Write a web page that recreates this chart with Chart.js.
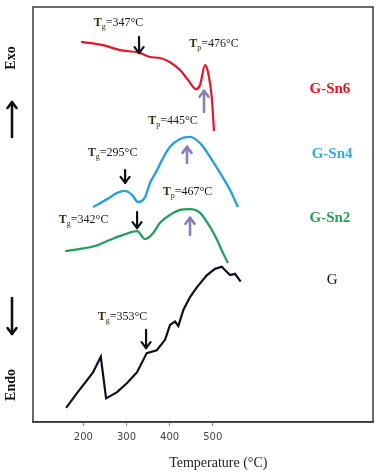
<!DOCTYPE html>
<html><head><meta charset="utf-8">
<script src="https://cdn.jsdelivr.net/npm/chart.js@4/dist/chart.umd.min.js"></script>
<style>html,body{margin:0;padding:0;background:#fff}#wrap{width:380px;height:474px}</style>
</head><body><div id="wrap"><canvas id="c" width="380" height="474"></canvas></div>
<script>
// Temperature (°C) and heat-flow (arbitrary units)
const sn6T = [194.7,245.7,285.1,329.1,354.6,377.8,401.0,424.2,442.8,461.3,470.6,482.2,489.8,497.7,503.0];
const sn6Y = [91.6,90.8,89.6,89.0,87.95,87.7,86.7,84.8,82.4,80.2,81.2,86.0,84.0,78.4,70.1];
const sn4T = [222.5,255.0,278.1,296.7,312.9,326.8,343.1,354.6,370.9,384.8,401.0,424.2,447.4,470.6,493.8,517.0,540.2,558.7];
const sn4Y = [51.8,53.7,55.2,55.7,54.7,53.0,54.2,57.6,60.7,63.6,66.3,68.2,68.7,67.2,63.9,60.0,55.9,51.8];
const sn2T = [157.6,192.3,227.1,261.9,292.0,324.5,343.1,361.6,377.8,401.0,424.2,447.4,470.6,493.8,510.0,523.9,535.5];
const sn2Y = [41.2,41.7,42.4,43.9,45.1,46.0,44.1,45.5,48.0,49.9,51.1,51.3,50.4,47.0,43.9,40.7,38.3];
const gT = [159.9,185.4,208.6,222.5,240.3,252.6,278.1,301.3,324.5,347.0,370.2,389.4,401.0,412.6,420.3,431.9,447.4,463.6,486.8,505.4,520.9,540.2,551.8,564.9];
const gY = [3.4,7.0,10.1,12.0,15.7,5.7,7.2,9.4,12.0,16.6,17.3,19.8,23.4,24.2,23.1,27.0,30.1,32.5,35.4,36.9,37.4,35.4,35.7,33.8];
const xTicks = [200,300,400,500];
const seriesNames = ['G-Sn6','G-Sn4','G-Sn2','G'];
// annotations: [sub, text, textT, textY, arrowT, tailY, headY, kind]
const notes = [
  ['g','=347°C',281.6,96.1,329.1,92.8,88.9,'tg'],
  ['p','=476°C',503.0,91.1,479.9,74.7,79.8,'tp'],
  ['p','=445°C',408.0,72.5,440.4,62.4,66.3,'tp'],
  ['g','=295°C',267.7,64.8,296.7,60.7,57.6,'tg'],
  ['p','=467°C',441.6,55.4,447.4,45.1,49.2,'tp'],
  ['g','=342°C',200.5,48.7,324.5,50.6,46.7,'tg'],
  ['g','=353°C',290.9,25.3,345.4,22.2,17.8,'tg']
];
// series label anchors (T, y)
const labelT = [772,777,772,777];
const labelY = [80.1,64.6,49.2,34.2];

const colors = ['#e3162b','#2b9fda','#1f9e5a','#0e0e1e'];
const labelColors = ['#e8101e','#35a8e0','#22a055','#111111'];
const pts = (xs,ys)=>xs.map((v,i)=>({x:v,y:ys[i]}));

function arrow(ctx,x,y1,y2,col,w){
  ctx.strokeStyle=col; ctx.lineWidth=w; ctx.lineCap='round'; ctx.lineJoin='round';
  ctx.beginPath(); ctx.moveTo(x,y1); ctx.lineTo(x,y2); ctx.stroke();
  const d = y2>y1?1:-1;
  ctx.beginPath(); ctx.moveTo(x-4.5,y2-d*6); ctx.lineTo(x,y2); ctx.lineTo(x+4.5,y2-d*6); ctx.stroke();
}

const annot = {
  id:'annot',
  afterDraw(chart){
    const {ctx, chartArea:a, scales:{x,y}} = chart;
    ctx.save();
    ctx.strokeStyle='#3a3a3a'; ctx.lineWidth=1.5;
    ctx.strokeRect(a.left,a.top,a.width,a.height);
    notes.forEach(n=>{
      const [sub,txt,tT,tY,aT,y1,y2,kind]=n;
      ctx.font='bold 12px "Liberation Serif"';
      const wT=ctx.measureText('T').width;
      ctx.font='8px "Liberation Serif"'; const wS=ctx.measureText(sub).width;
      ctx.font='12px "Liberation Serif"'; const wR=ctx.measureText(txt).width;
      const tw=wT+wS+wR;
      let px=x.getPixelForValue(tT)-tw/2; const py=y.getPixelForValue(tY);
      ctx.textBaseline='middle'; ctx.textAlign='left';
      ctx.font='bold 12px "Liberation Serif"'; ctx.fillStyle='#3a2a10'; ctx.fillText('T',px,py); px+=wT;
      ctx.font='8px "Liberation Serif"'; ctx.fillText(sub,px,py+4); px+=wS;
      ctx.font='12px "Liberation Serif"'; ctx.fillStyle='#1a1a1a'; ctx.fillText(txt,px,py);
      const ax=x.getPixelForValue(aT);
      if(kind==='tg') arrow(ctx,ax,y.getPixelForValue(y1),y.getPixelForValue(y2),'#111',2.2);
      else arrow(ctx,ax,y.getPixelForValue(y1),y.getPixelForValue(y2),'#8a7db8',2.6);
    });
    seriesNames.forEach((s,i)=>{
      ctx.font=(i===3?'':'bold ')+'15px "Liberation Serif"';
      ctx.fillStyle=labelColors[i]; ctx.textAlign='center'; ctx.textBaseline='middle';
      ctx.fillText(s,x.getPixelForValue(labelT[i]),y.getPixelForValue(labelY[i]));
    });
    ctx.fillStyle='#111';
    [['Exo',58],['Endo',385]].forEach(([t,cy])=>{
      ctx.save(); ctx.translate(11,cy); ctx.rotate(-Math.PI/2);
      ctx.font='bold 14px "Liberation Serif"'; ctx.textAlign='center'; ctx.textBaseline='middle';
      ctx.fillText(t,0,0); ctx.restore();
    });
    arrow(ctx,12,137,102,'#111',2.6);
    arrow(ctx,12,298,334,'#111',2.6);
    ctx.font='14px "Liberation Serif"'; ctx.fillStyle='#222'; ctx.textAlign='center'; ctx.textBaseline='middle';
    ctx.fillText('Temperature (°C)', a.left+0.545*a.width, 463);
    ctx.restore();
  }
};

new Chart(document.getElementById('c'),{
  type:'scatter',
  data:{datasets:[
    {data:pts(sn6T,sn6Y),borderColor:colors[0],borderWidth:2.2,cubicInterpolationMode:'monotone'},
    {data:pts(sn4T,sn4Y),borderColor:colors[1],borderWidth:2.4,cubicInterpolationMode:'monotone'},
    {data:pts(sn2T,sn2Y),borderColor:colors[2],borderWidth:2.2,cubicInterpolationMode:'monotone'},
    {data:pts(gT,gY),borderColor:colors[3],borderWidth:2.2,tension:0}
  ].map(d=>Object.assign(d,{showLine:true,pointRadius:0,fill:false}))},
  options:{
    responsive:false,animation:false,
    layout:{padding:{left:33,right:7,top:7,bottom:0}},
    plugins:{legend:{display:false},tooltip:{enabled:false}},
    scales:{
      x:{type:'linear',min:83,max:872,
        afterBuildTicks:s=>{s.ticks=xTicks.map(v=>({value:v}));},
        afterFit:s=>{s.height=52;},
        ticks:{color:'#444',font:{family:'DejaVu Sans',size:10},padding:5,maxRotation:0},
        grid:{drawOnChartArea:false,drawTicks:true,tickLength:4,color:'#888'},
        border:{display:true,color:'#3a3a3a',width:1.5}},
      y:{display:false,min:0,max:100}
    }
  },
  plugins:[annot]
});
</script></body></html>
